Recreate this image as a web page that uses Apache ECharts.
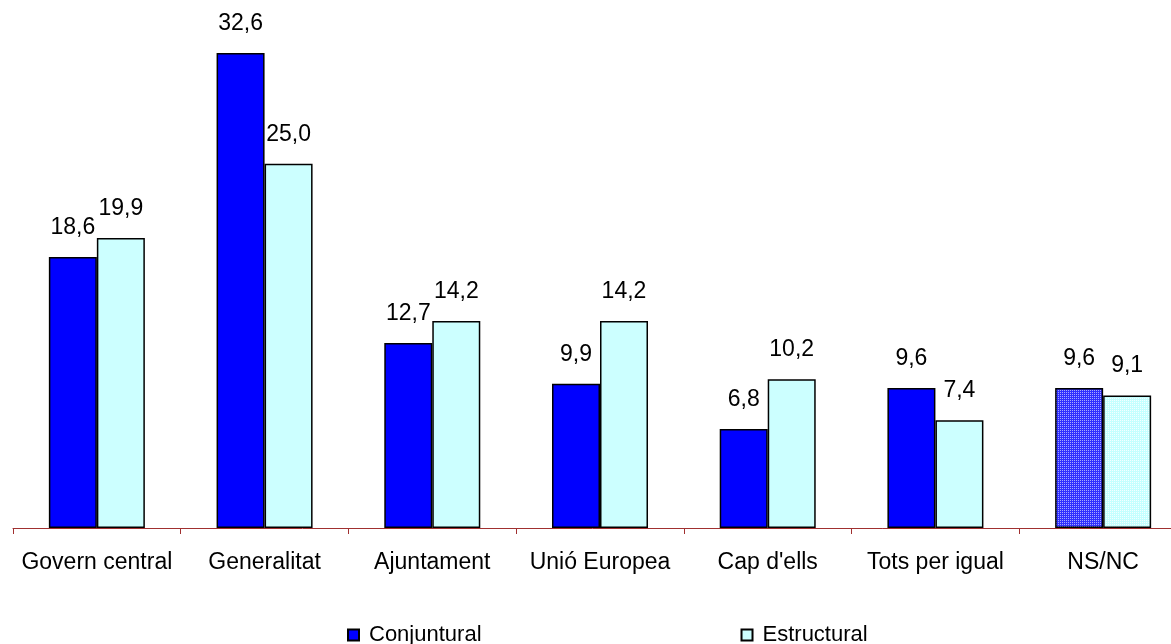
<!DOCTYPE html>
<html>
<head>
<meta charset="utf-8">
<script src="https://cdn.jsdelivr.net/npm/echarts@6/dist/echarts.min.js"></script>
<style>html,body{margin:0;padding:0;background:#fff}#c{width:1171px;height:644px}</style>
</head>
<body>
<div id="c"></div>
<script>
const categories = ['Govern central', 'Generalitat', 'Ajuntament', 'Unió Europea', "Cap d'ells", 'Tots per igual', 'NS/NC'];
const conjuntural = [18.6, 32.6, 12.7, 9.9, 6.8, 9.6, 9.6];
const estructural = [19.9, 25.0, 14.2, 14.2, 10.2, 7.4, 9.1];
const seriesNames = ['Conjuntural', 'Estructural'];

function makePattern(base, dot) {
  const c = document.createElement('canvas');
  c.width = 2; c.height = 2;
  const g = c.getContext('2d');
  g.fillStyle = base; g.fillRect(0, 0, 2, 2);
  g.fillStyle = dot; g.fillRect(0, 0, 1, 1);
  return {image: c, repeat: 'repeat'};
}
const patBlue = makePattern('#3030ff', '#a8a8ff');
const patCyan = makePattern('#c4ffff', '#f4ffff');

function mkData(arr, patternLast) {
  return arr.map((v, i) => i === arr.length - 1 ? {value: v, itemStyle: {color: patternLast}} : v);
}

const fmt = p => p.value.toFixed(1).replace('.', ',');
const font = 'Liberation Sans, Arial, sans-serif';
const labelCfg = {show: true, position: 'top', distance: 18, formatter: fmt, color: '#000', fontSize: 23, fontFamily: font};

const chart = echarts.init(document.getElementById('c'));
chart.setOption({
  animation: false,
  backgroundColor: '#fff',
  grid: {left: 13, width: 1174, top: 18, bottom: 116, containLabel: false, outerBoundsMode: 'none'},
  legend: {
    left: 342, top: 619, itemWidth: 11, itemHeight: 11, itemGap: 259,
    textStyle: {fontSize: 22, fontFamily: font, color: '#000', padding: [0, 0, 0, 5]},
    data: seriesNames.map(n => ({name: n, icon: 'rect'}))
  },
  xAxis: {
    type: 'category', data: categories,
    axisLine: {lineStyle: {color: '#a03030', width: 1}},
    axisTick: {show: true, length: 6, lineStyle: {color: '#a03030'}},
    axisLabel: {margin: 23, fontSize: 23, fontFamily: font, color: '#000', interval: 0}
  },
  yAxis: {type: 'value', min: 0, max: 35, show: false, splitLine: {show: false}},
  series: [
    {name: seriesNames[0], type: 'bar', data: mkData(conjuntural, patBlue), barWidth: 48, barGap: '0%',
     itemStyle: {color: '#0000ff', borderColor: '#000', borderWidth: 1.5}, label: labelCfg},
    {name: seriesNames[1], type: 'bar', data: mkData(estructural, patCyan), barWidth: 48, barGap: '0%',
     itemStyle: {color: '#ccffff', borderColor: '#000', borderWidth: 1.5}, label: labelCfg}
  ]
});
</script>
</body>
</html>
